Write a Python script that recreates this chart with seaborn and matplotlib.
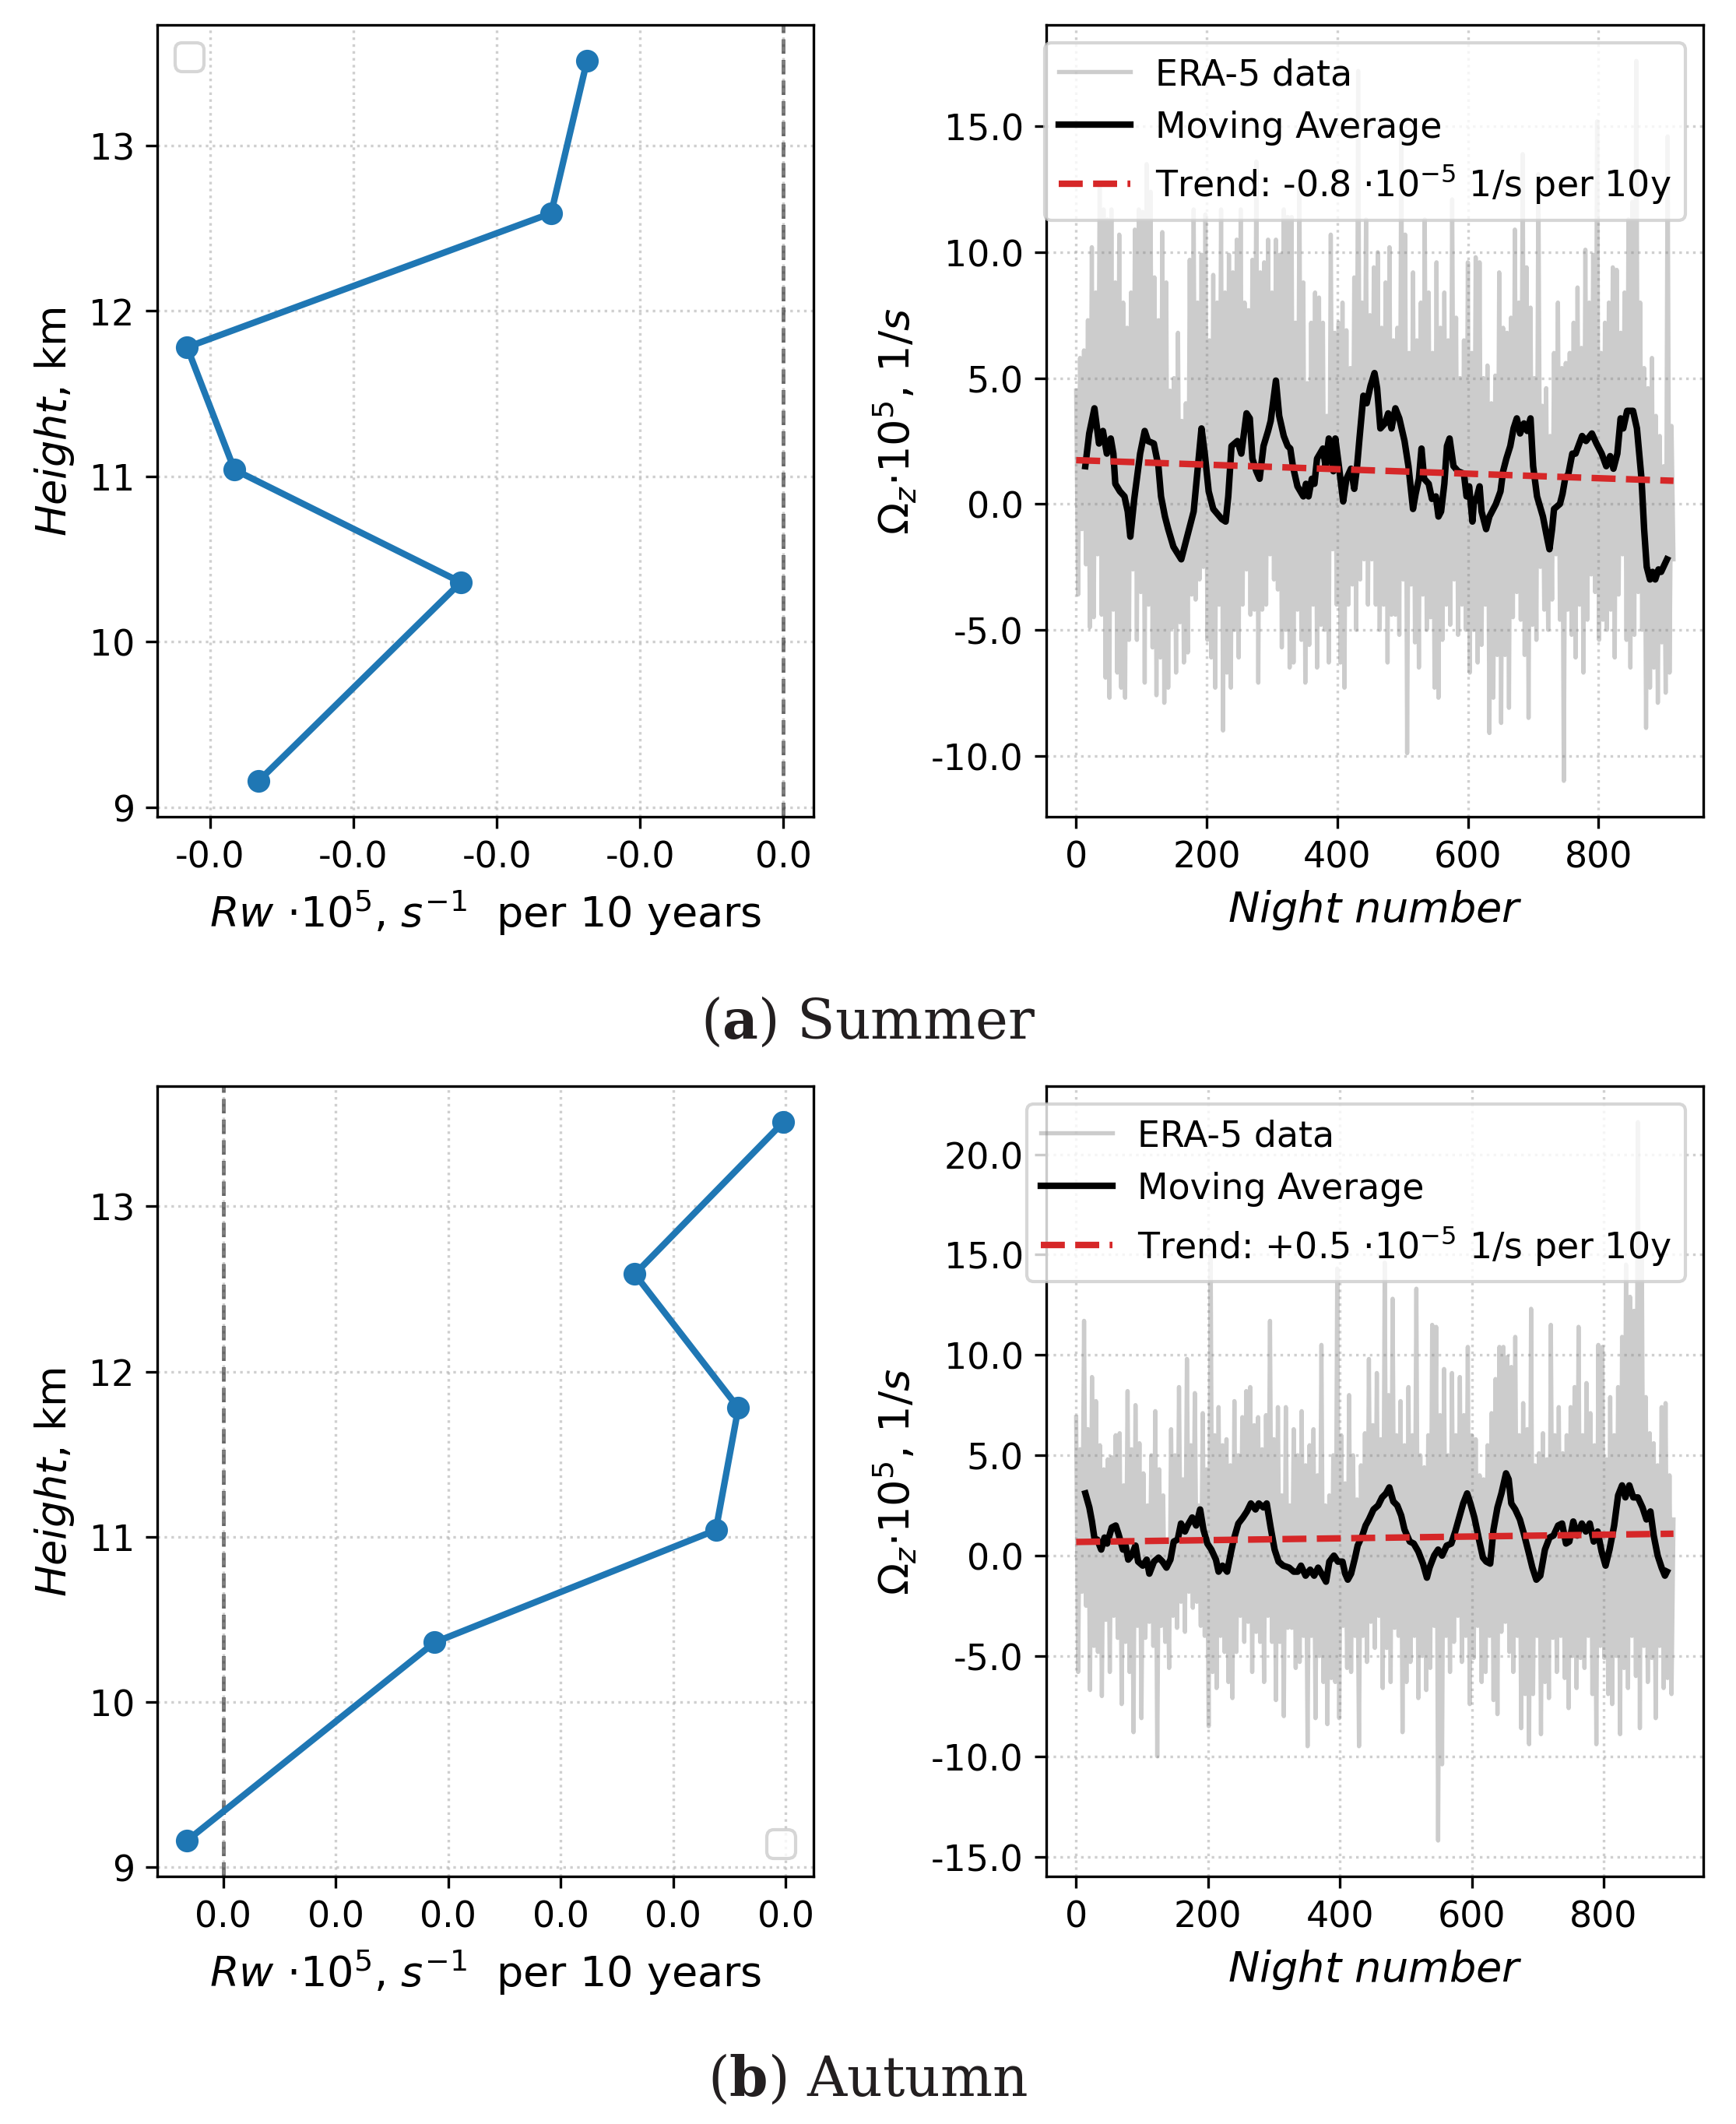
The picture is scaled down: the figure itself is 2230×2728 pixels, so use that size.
import numpy as np
import matplotlib
matplotlib.use('Agg')
import matplotlib.pyplot as plt
import seaborn as sns
from matplotlib.ticker import MultipleLocator, FormatStrFormatter


plt.rcParams.update(
    {
        'xtick.labelsize': 11,
        'ytick.labelsize': 11,
        'legend.fontsize': 11,
    }
)

# ---- data ----
heights = [9.16, 10.36, 11.04, 11.78, 12.59, 13.51]
rw_summer = [-0.0366, -0.0225, -0.0383, -0.0416, -0.0162, -0.0137]
rw_autumn = [-0.0016, 0.0094, 0.0219, 0.0229, 0.0183, 0.0249]

NIGHT_STEP = 3  # raw series read every 3rd night

era5_summer = [
    4.5, -3.6, 5.8, -1.0, 6.1, -2.4, 7.3, -4.9, 10.2, -4.5,
    8.4, -2.0, 12.7, -4.4, 11.7, -6.9, 11.3, -7.7, 11.7, -4.2,
    8.8, -6.7, 10.7, -7.3, 8.0, -7.7, 7.0, -5.4, 8.4, -2.6,
    10.9, -5.4, 11.7, -3.5, 11.6, -7.1, 13.5, -4.0, 12.4, -5.7,
    9.0, -7.6, 7.3, -6.1, 10.8, -7.9, 8.8, -7.3, 4.5, -4.9,
    5.0, -6.7, 6.8, -4.7, 3.3, -6.3, 4.0, -5.9, 9.7, -3.6,
    11.7, -3.8, 8.0, -3.0, 9.9, -2.5, 11.5, -5.4, 6.5, -6.1,
    9.1, -7.3, 8.0, -4.0, 11.7, -9.0, 8.4, -6.7, 9.9, -7.3,
    9.2, -5.0, 10.5, -6.1, 11.7, -4.0, 8.0, -2.6, 7.7, -4.4,
    9.7, -4.2, 13.6, -7.1, 9.2, -4.2, 9.6, -4.0, 10.5, -2.0,
    8.4, -3.0, 10.5, -3.4, 9.9, -5.7, 11.7, -5.0, 11.4, -6.5,
    11.4, -6.3, 7.2, -4.2, 12.7, -5.4, 8.8, -7.1, 4.8, -5.6,
    7.2, -4.0, 8.4, -6.5, 8.2, -4.8, 7.2, -5.0, 3.5, -6.3,
    10.7, -1.8, 6.8, -4.0, 7.2, -6.3, 8.0, -7.3, 6.9, -4.0,
    5.4, -3.2, 9.0, -5.0, 17.2, -3.0, 8.0, -2.2, 11.3, -4.0,
    7.5, -2.2, 9.4, -4.0, 10.0, -5.0, 7.0, -4.0, 8.8, -6.3,
    10.2, -4.4, 6.5, -4.4, 7.0, -5.2, 14.6, -3.0, 10.7, -9.9,
    6.0, -3.2, 9.2, -5.5, 6.5, -6.5, 8.0, -3.6, 11.3, -5.0,
    8.4, -4.5, 6.0, -7.3, 9.6, -7.7, 7.0, -5.4, 8.4, -4.0,
    6.5, -4.8, 12.1, -3.0, 7.4, -5.2, 5.0, -4.0, 6.5, -5.0,
    9.6, -6.7, 6.0, -5.0, 9.8, -6.3, 9.6, -5.6, 5.0, -4.0,
    5.5, -9.1, 4.0, -7.7, 5.1, -6.0, 9.2, -8.7, 7.0, -6.0,
    6.8, -8.1, 7.4, -4.5, 10.9, -3.5, 8.0, -4.6, 13.9, -6.0,
    9.4, -8.5, 7.8, -4.8, 5.0, -5.4, 13.1, -2.5, 3.9, -4.2,
    4.6, -5.0, 2.7, -3.8, 6.0, -2.0, 8.0, -4.6, 5.4, -11.0,
    5.6, -4.2, 6.0, -5.2, 7.2, -6.1, 8.6, -4.0, 6.2, -6.7,
    10.1, -4.6, 8.0, -2.8, 9.9, -3.5, 15.2, -5.4, 6.0, -4.6,
    7.2, -5.0, 8.0, -4.2, 9.4, -6.1, 9.3, -3.6, 6.8, -2.0,
    8.4, -5.4, 11.3, -6.5, 12.0, -5.2, 17.6, -3.5, 8.0, -5.0,
    5.4, -8.9, 4.6, -7.3, 5.8, -6.5, 3.5, -7.9, 2.7, -5.5,
    1.5, -7.5, 14.6, -6.7, 3.1, -2.2,
]

era5_autumn = [
    6.9, -5.8, 5.3, -1.8, 11.7, -2.5, 6.3, -6.7, 8.9, -4.5,
    7.7, -4.8, 5.5, -7.0, 4.3, -3.2, 4.8, -5.8, 4.9, -3.0,
    6.0, -4.1, 6.1, -7.4, 3.5, -4.3, 8.2, -5.8, 5.3, -8.8,
    7.5, -3.5, 5.6, -8.1, 4.1, -4.1, 2.5, -3.3, 5.0, -4.5,
    7.2, -10.0, 4.3, -3.5, 3.0, -4.3, 0.8, -5.6, 6.3, -3.0,
    5.0, -3.6, 8.4, -2.3, 3.8, -3.8, 9.8, -1.8, 5.5, -2.6,
    8.1, -2.3, 2.5, -3.5, 7.1, -4.0, 4.3, -8.5, 15.0, -5.8,
    6.0, -6.6, 7.4, -4.0, 5.5, -4.8, 5.8, -6.3, 4.5, -7.1,
    7.7, -4.8, 5.0, -3.0, 6.9, -4.3, 8.2, -3.3, 8.4, -5.8,
    6.5, -3.8, 6.9, -4.3, 5.3, -6.3, 7.0, -3.0, 11.7, -4.3,
    5.8, -7.2, 7.4, -4.3, 3.0, -8.0, 7.4, -3.6, 2.5, -3.6,
    6.3, -5.6, 5.0, -5.3, 7.2, -4.0, 4.5, -9.5, 5.5, -4.0,
    6.3, -8.1, 4.0, -5.0, 10.5, -6.3, 2.5, -8.4, 3.0, -6.1,
    5.0, -6.3, 14.3, -8.1, 6.0, -3.5, 3.6, -5.6, 8.0, -5.8,
    5.0, -4.0, 2.8, -9.5, 4.5, -4.0, 6.1, -5.3, 9.8, -3.3,
    6.5, -4.6, 9.1, -3.0, 5.8, -6.6, 14.6, -4.6, 8.0, -6.3,
    12.8, -3.6, 6.0, -4.0, 7.7, -8.8, 5.5, -6.3, 8.4, -5.3,
    6.0, -4.0, 13.3, -7.1, 5.0, -5.0, 4.4, -6.7, 6.0, -5.6,
    11.5, -3.5, 11.4, -14.2, 7.0, -10.4, 9.3, -4.0, 5.0, -5.8,
    9.1, -4.3, 6.0, -3.0, 8.9, -5.3, 7.0, -4.0, 10.4, -7.4,
    6.0, -5.1, 5.8, -3.5, 4.0, -6.3, 3.8, -5.8, 5.5, -4.0,
    7.1, -7.2, 8.8, -7.9, 10.4, -3.8, 10.4, -3.3, 9.9, -4.8,
    9.4, -5.8, 10.9, -4.0, 6.0, -8.6, 7.6, -6.9, 6.3, -9.4,
    12.3, -6.9, 4.5, -4.0, 5.1, -8.9, 6.1, -6.3, 4.8, -7.1,
    11.5, -4.1, 6.0, -5.8, 7.4, -4.0, 5.1, -6.1, 6.0, -7.6,
    7.4, -5.0, 8.4, -6.6, 11.4, -5.1, 6.0, -5.6, 8.6, -4.0,
    7.1, -6.9, 5.5, -9.4, 10.5, -4.5, 10.4, -5.1, 4.8, -6.9,
    7.9, -7.4, 6.0, -5.0, 8.4, -8.9, 10.9, -5.6, 14.5, -6.6,
    12.9, -4.0, 12.2, -6.0, 21.6, -8.6, 15.0, -4.5, 7.9, -6.3,
    6.1, -5.1, 5.6, -8.1, 4.5, -4.5, 7.4, -6.6, 7.6, -6.1,
    4.0, -6.9, 1.8,
]

# moving average, (night, value)
ma_summer = [
    (14, 1.5), (20, 2.8), (28, 3.8), (35, 2.4), (41, 2.9), (47, 2.0), (53, 2.6),
    (57, 2.0), (60, 0.8), (67, 0.5), (74, 0.3), (79, -0.3), (83, -1.3), (89, 0.2),
    (98, 2.0), (105, 2.9), (110, 2.5), (119, 2.4), (126, 1.5), (130, 0.3), (136, -0.5),
    (141, -1.0), (149, -1.7), (161, -2.2), (167, -1.6), (180, -0.3), (184, 0.8),
    (192, 3.0), (197, 2.0), (203, 0.5), (210, -0.2), (223, -0.6), (229, -0.7),
    (233, 0.3), (238, 2.3), (247, 2.5), (253, 2.0), (261, 3.6), (266, 3.4), (270, 1.8),
    (276, 1.3), (281, 1.0), (287, 2.3), (294, 2.9), (298, 3.3), (306, 4.9), (311, 3.5),
    (318, 2.7), (324, 2.3), (328, 2.2), (332, 1.5), (339, 0.7), (348, 0.3), (352, 0.8),
    (356, 0.3), (361, 1.0), (365, 0.8), (369, 1.8), (378, 2.2), (382, 1.5), (387, 2.6),
    (394, 1.3), (397, 2.6), (402, 1.6), (409, 0.1), (414, 1.0), (421, 1.4), (426, 0.6),
    (430, 1.4), (434, 2.6), (440, 4.3), (445, 4.0), (451, 4.7), (457, 5.2), (461, 4.6),
    (466, 3.0), (473, 3.2), (478, 3.6), (483, 3.0), (489, 3.8), (495, 3.4), (503, 2.5),
    (509, 1.5), (516, -0.2), (520, 0.4), (525, 1.0), (529, 2.2), (533, 1.0), (540, 0.8),
    (545, 0.2), (551, 0.3), (555, -0.5), (559, -0.3), (564, 0.8), (568, 2.3), (572, 2.6),
    (578, 1.5), (585, 1.3), (594, 1.2), (598, 0.3), (602, 0.7), (607, -0.7), (609, 0.0),
    (614, 0.3), (618, 0.7), (621, -0.3), (628, -1.0), (633, -0.5), (637, -0.3),
    (643, 0.0), (650, 0.5), (654, 1.3), (659, 1.8), (665, 2.3), (670, 3.0), (675, 3.4),
    (680, 2.8), (686, 3.2), (691, 2.9), (696, 3.4), (700, 1.5), (706, 0.3), (715, -0.5),
    (721, -1.3), (725, -1.8), (729, -1.0), (732, -0.2), (741, 0.0), (745, 0.4),
    (749, 1.0), (754, 1.2), (760, 2.0), (765, 2.0), (775, 2.7), (781, 2.5), (790, 2.8),
    (797, 2.4), (805, 2.0), (812, 1.5), (818, 1.9), (823, 1.4), (829, 2.0), (834, 3.4),
    (838, 3.0), (844, 3.7), (853, 3.7), (859, 3.0), (866, 1.0), (870, -1.0), (874, -2.5),
    (879, -3.0), (883, -2.7), (887, -3.0), (892, -2.6), (896, -2.7), (905, -2.2),
]

ma_autumn = [
    (14, 3.1), (20, 2.4), (24, 1.7), (28, 0.8), (32, 0.8), (38, 0.3), (43, 0.9),
    (47, 0.6), (54, 1.4), (60, 1.5), (64, 1.1), (71, 0.3), (75, 0.5), (79, -0.2),
    (84, 0.0), (90, 0.5), (94, -0.3), (101, -0.5), (107, -0.2), (111, -0.9), (118, -0.3),
    (125, -0.1), (131, -0.3), (137, -0.6), (143, -0.2), (148, 0.7), (154, 0.8),
    (159, 1.6), (165, 1.2), (169, 1.5), (176, 1.9), (182, 1.5), (188, 2.3), (193, 1.3),
    (199, 0.6), (205, 0.3), (212, -0.2), (216, -0.8), (222, -0.5), (229, -0.8),
    (235, 0.2), (239, 0.8), (246, 1.6), (253, 1.9), (259, 2.2), (265, 2.6), (272, 2.3),
    (277, 2.6), (284, 2.4), (289, 2.6), (295, 1.4), (301, 0.3), (307, -0.3), (314, -0.5),
    (323, -0.6), (330, -0.8), (336, -0.8), (341, -0.5), (348, -1.0), (355, -0.7),
    (361, -1.0), (367, -0.6), (374, -1.0), (379, -1.3), (384, -0.3), (391, 0.0),
    (397, -0.3), (404, -0.3), (408, -0.9), (412, -1.2), (417, -0.9), (423, -0.1),
    (427, 0.5), (434, 1.0), (439, 1.5), (444, 1.8), (451, 2.3), (458, 2.5), (464, 2.9),
    (470, 3.1), (475, 3.4), (481, 2.7), (487, 2.5), (493, 2.0), (498, 1.3), (506, 0.7),
    (512, 0.6), (519, 0.2), (526, -0.4), (532, -1.1), (536, -0.6), (543, 0.0),
    (549, 0.3), (555, 0.0), (562, 0.5), (569, 0.6), (575, 1.2), (581, 1.9), (587, 2.6),
    (593, 3.1), (598, 2.6), (604, 1.9), (611, 0.8), (617, -0.1), (622, -0.3),
    (628, -0.4), (633, 1.3), (639, 2.4), (645, 3.1), (652, 4.1), (656, 3.8), (660, 2.6),
    (666, 2.3), (673, 1.8), (679, 1.1), (686, 0.2), (692, -0.6), (698, -1.2),
    (704, -1.0), (711, 0.3), (718, 0.9), (724, 1.0), (731, 1.5), (737, 1.6), (743, 0.6),
    (748, 0.7), (754, 1.7), (760, 1.0), (767, 1.6), (773, 1.2), (779, 1.6), (785, 0.7),
    (791, 1.2), (797, 0.2), (803, -0.5), (809, 0.3), (816, 1.5), (822, 3.0), (828, 3.5),
    (833, 2.9), (839, 3.5), (845, 2.9), (852, 2.9), (859, 2.4), (865, 1.8), (871, 2.2),
    (876, 1.0), (882, 0.0), (888, -0.6), (893, -1.0), (896, -0.8),
]

# linear trend, value at first and last night
trend_summer = [1.74, 0.92]
trend_autumn = [0.68, 1.09]

trend_labels = ['Trend: -0.8 ·10$^{-5}$ 1/s per 10y',
                'Trend: +0.5 ·10$^{-5}$ 1/s per 10y']
captions = [r'($\mathbf{a}$) Summer', r'($\mathbf{b}$) Autumn']


# ---- plotting ----
W, H, DPI = 2230, 2729, 300
fig = plt.figure(figsize=(W / DPI, H / DPI), dpi=DPI)


def profile_panel(ax, rw, step, legend_loc):
    ax.axvline(0, color='k', alpha=0.5, linestyle='--', linewidth=1.2)
    sns.lineplot(x=rw, y=heights, ax=ax, sort=False, estimator=None,
                 color='#1f77b4', linewidth=2, marker='o', markersize=6,
                 markeredgecolor='#1f77b4', markeredgewidth=1)
    ax.xaxis.set_major_locator(MultipleLocator(step))
    ax.xaxis.set_major_formatter(FormatStrFormatter('%.1f'))
    ax.yaxis.set_major_locator(MultipleLocator(1))
    ax.set_xlabel(r'$Rw$ ·10$^5$, $s^{-1}$  per 10 years', fontsize=13)
    ax.set_ylabel(r'$Height$, km', fontsize=13)
    ax.grid(True, linestyle=':', alpha=0.6)
    ax.legend(handles=[], loc=legend_loc)


def series_panel(ax, raw, ma, trend, trend_label):
    nights = np.arange(len(raw)) * NIGHT_STEP
    sns.lineplot(x=nights, y=raw, ax=ax, estimator=None, sort=False,
                 color='gray', alpha=0.4, linewidth=1.3, label='ERA-5 data')
    ma_n, ma_v = zip(*ma)
    sns.lineplot(x=list(ma_n), y=list(ma_v), ax=ax, estimator=None, sort=False,
                 color='k', linewidth=2.0, label='Moving Average')
    sns.lineplot(x=[nights[0], nights[-1]], y=trend, ax=ax, estimator=None,
                 sort=False, color='#d62728', linestyle='--', linewidth=2,
                 label=trend_label)
    ax.xaxis.set_major_locator(MultipleLocator(200))
    ax.yaxis.set_major_locator(MultipleLocator(5))
    ax.yaxis.set_major_formatter(FormatStrFormatter('%.1f'))
    ax.set_xlabel(r'$Night\ number$', fontsize=13)
    ax.set_ylabel(r'$\Omega_z$·10$^5$, $1/s$', fontsize=13)
    ax.grid(True, linestyle=':', alpha=0.6)
    ax.legend(loc='upper right', handletextpad=0.7)


ax_tl = fig.add_axes([0.0906, 0.6152, 0.3778, 0.3727])
ax_tr = fig.add_axes([0.6027, 0.6152, 0.3785, 0.3727])
ax_bl = fig.add_axes([0.0906, 0.1165, 0.3778, 0.3719])
ax_br = fig.add_axes([0.6027, 0.1165, 0.3785, 0.3719])

profile_panel(ax_tl, rw_summer, 0.01, 'upper left')
profile_panel(ax_bl, rw_autumn, 0.005, 'lower right')
series_panel(ax_tr, era5_summer, ma_summer, trend_summer, trend_labels[0])
series_panel(ax_br, era5_autumn, ma_autumn, trend_autumn, trend_labels[1])

for y, cap in zip([0.5185, 0.0209], captions):
    fig.text(0.5, y, cap, ha='center', va='center', fontsize=17,
             family='DejaVu Serif', math_fontfamily='dejavuserif', color='#231f20')

fig.savefig('out.png', dpi=DPI)
